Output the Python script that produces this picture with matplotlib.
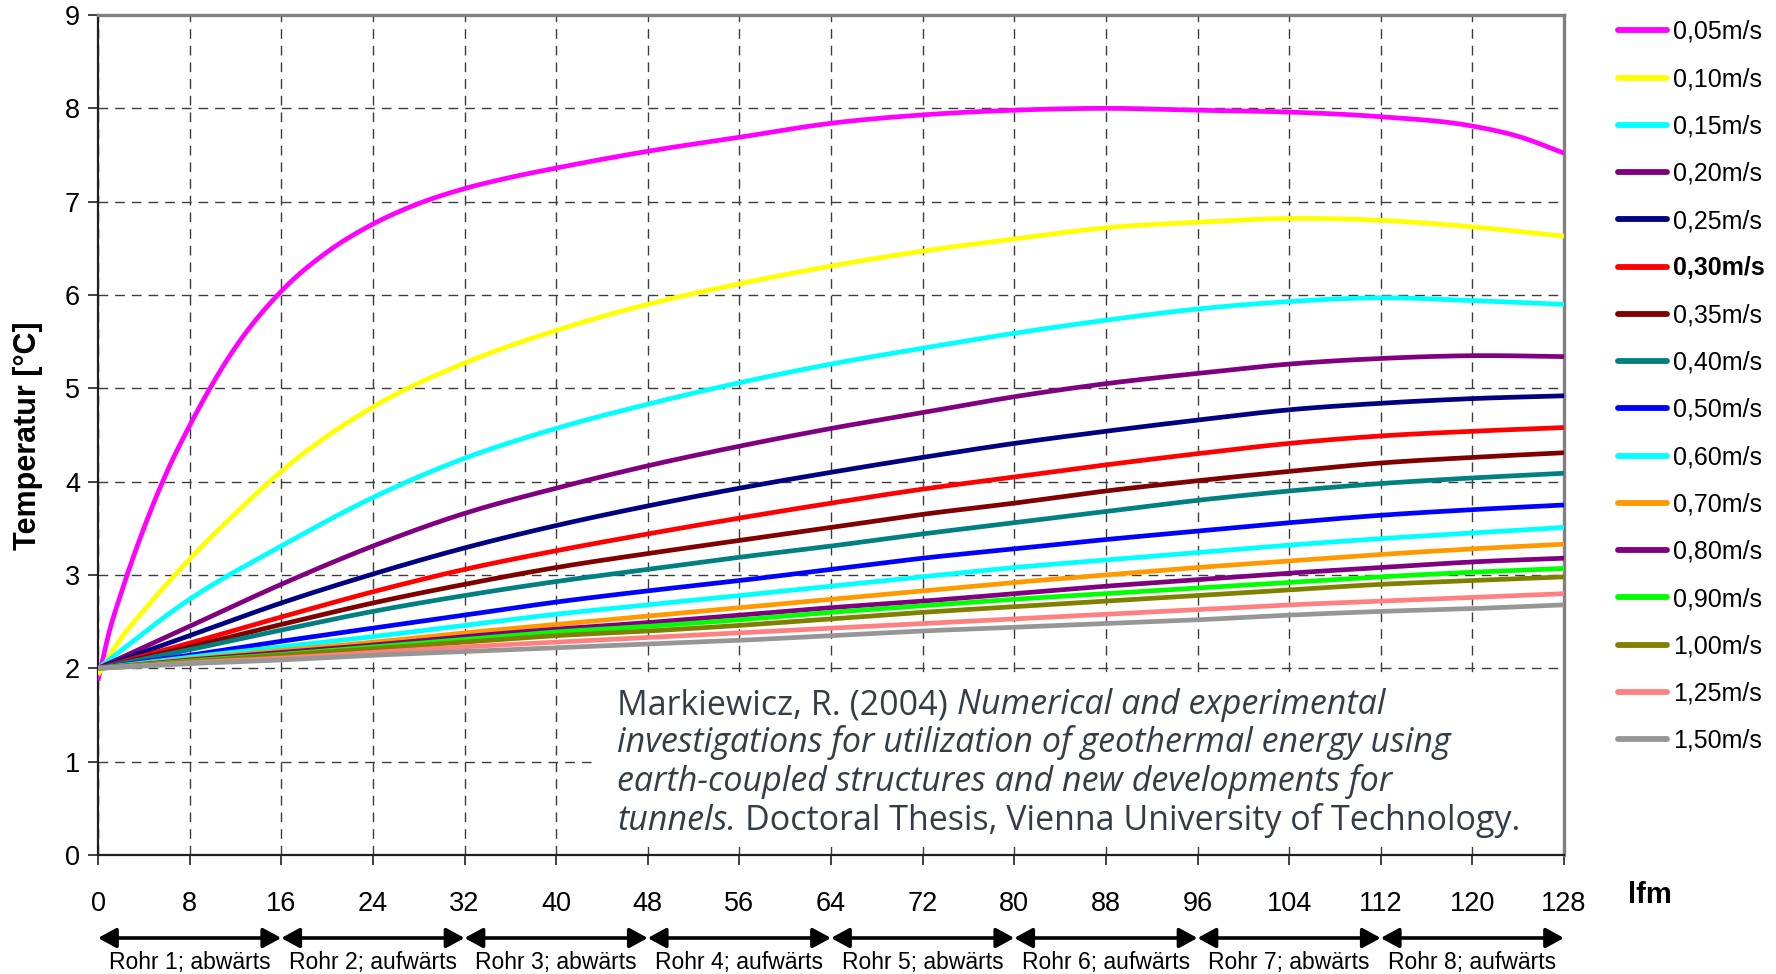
import numpy as np
import matplotlib
matplotlib.use('Agg')
import matplotlib.pyplot as plt
import matplotlib.transforms as mtransforms
from matplotlib.patches import Rectangle

plt.rcParams['font.family'] = ['Liberation Sans', 'DejaVu Sans']

# Laufmeter entlang der Sonde
lfm = [0, 8, 16, 24, 32, 40, 48, 56, 64, 72, 80, 88, 96, 104, 112, 120, 128]

# 0,05 m/s und 0,10 m/s steigen am Anfang steil an -> dichtere Stützstellen
lfm_005 = [0, 1, 2, 4, 6, 8, 12, 16, 20, 24, 28, 32, 36, 40, 48, 56, 64, 72, 80,
           88, 96, 104, 112, 120, 124, 128]
t_005 = [1.87, 2.4, 2.8, 3.5, 4.1, 4.6, 5.44, 6.04, 6.46, 6.76, 6.98, 7.14, 7.26,
         7.36, 7.54, 7.69, 7.84, 7.93, 7.98, 8.0, 7.98, 7.96, 7.91, 7.81, 7.7, 7.52]
lfm_010 = [0, 2, 4, 8, 12, 16, 24, 32, 40, 48, 56, 64, 72, 80, 88, 96, 104, 112, 120, 128]
t_010 = [1.93, 2.32, 2.62, 3.17, 3.66, 4.11, 4.80, 5.27, 5.62, 5.90, 6.12, 6.31, 6.47,
         6.60, 6.72, 6.78, 6.82, 6.80, 6.73, 6.63]

t_015 = [2.0, 2.74, 3.31, 3.83, 4.25, 4.57, 4.83, 5.06, 5.26, 5.43, 5.59, 5.73, 5.85, 5.93, 5.97, 5.94, 5.90]
t_020 = [2.0, 2.45, 2.90, 3.31, 3.66, 3.93, 4.17, 4.38, 4.57, 4.74, 4.91, 5.05, 5.16, 5.26, 5.32, 5.35, 5.34]
t_025 = [2.0, 2.35, 2.70, 3.01, 3.29, 3.53, 3.74, 3.93, 4.10, 4.26, 4.41, 4.54, 4.66, 4.77, 4.84, 4.89, 4.92]
t_030 = [2.0, 2.27, 2.55, 2.82, 3.06, 3.26, 3.44, 3.61, 3.77, 3.92, 4.05, 4.18, 4.30, 4.41, 4.49, 4.54, 4.58]
t_035 = [2.0, 2.23, 2.47, 2.70, 2.90, 3.08, 3.23, 3.37, 3.51, 3.65, 3.77, 3.90, 4.01, 4.11, 4.20, 4.26, 4.31]
t_040 = [2.0, 2.20, 2.41, 2.61, 2.78, 2.93, 3.06, 3.19, 3.31, 3.44, 3.56, 3.68, 3.80, 3.90, 3.98, 4.04, 4.09]
t_050 = [2.0, 2.14, 2.29, 2.43, 2.57, 2.71, 2.83, 2.94, 3.06, 3.18, 3.28, 3.38, 3.47, 3.56, 3.64, 3.70, 3.75]
t_060 = [2.0, 2.12, 2.23, 2.34, 2.46, 2.58, 2.68, 2.78, 2.88, 2.98, 3.08, 3.16, 3.24, 3.32, 3.39, 3.45, 3.51]
t_070 = [2.0, 2.10, 2.19, 2.28, 2.38, 2.47, 2.56, 2.65, 2.74, 2.83, 2.92, 3.00, 3.08, 3.15, 3.22, 3.28, 3.33]
t_080 = [2.0, 2.09, 2.17, 2.25, 2.34, 2.42, 2.49, 2.57, 2.65, 2.72, 2.80, 2.88, 2.95, 3.02, 3.08, 3.14, 3.18]
t_090 = [2.0, 2.08, 2.15, 2.23, 2.31, 2.39, 2.45, 2.52, 2.60, 2.67, 2.74, 2.80, 2.86, 2.92, 2.98, 3.03, 3.07]
t_100 = [2.0, 2.07, 2.14, 2.21, 2.28, 2.35, 2.40, 2.46, 2.53, 2.60, 2.66, 2.72, 2.78, 2.84, 2.90, 2.94, 2.98]
t_125 = [2.0, 2.06, 2.11, 2.17, 2.23, 2.28, 2.33, 2.38, 2.43, 2.48, 2.53, 2.58, 2.63, 2.68, 2.72, 2.76, 2.80]
t_150 = [2.0, 2.05, 2.09, 2.14, 2.18, 2.22, 2.26, 2.30, 2.35, 2.40, 2.44, 2.48, 2.52, 2.57, 2.61, 2.64, 2.68]

speeds = ["0,05m/s", "0,10m/s", "0,15m/s", "0,20m/s", "0,25m/s", "0,30m/s", "0,35m/s",
          "0,40m/s", "0,50m/s", "0,60m/s", "0,70m/s", "0,80m/s", "0,90m/s", "1,00m/s",
          "1,25m/s", "1,50m/s"]
farben = ["#ff00ff", "#ffff00", "#00ffff", "#800080", "#000080", "#ff0000", "#800000",
          "#008080", "#0000ff", "#00ffff", "#ff9900", "#800080", "#00ff00", "#808000",
          "#ff8080", "#969696"]

rohr_grenzen = [0, 16, 32, 48, 64, 80, 96, 112, 128]
rohr_text = ["Rohr 1; abwärts", "Rohr 2; aufwärts", "Rohr 3; abwärts", "Rohr 4; aufwärts",
             "Rohr 5; abwärts", "Rohr 6; aufwärts", "Rohr 7; abwärts", "Rohr 8; aufwärts"]

kurven = [(lfm_005, t_005), (lfm_010, t_010)] + [(lfm, t) for t in
          [t_015, t_020, t_025, t_030, t_035, t_040, t_050, t_060, t_070, t_080,
           t_090, t_100, t_125, t_150]]


def glatt(x, y, n=24):
    # kubische Hermite-Kurve durch die Stützstellen (wie "geglättete Linie")
    x = np.asarray(x, float)
    y = np.asarray(y, float)
    m = np.gradient(y, x)
    xs, ys = [], []
    for i in range(len(x) - 1):
        h = x[i + 1] - x[i]
        t = np.linspace(0, 1, n, endpoint=False)
        h00 = 2 * t**3 - 3 * t**2 + 1
        h10 = t**3 - 2 * t**2 + t
        h01 = -2 * t**3 + 3 * t**2
        h11 = t**3 - t**2
        xs.append(x[i] + t * h)
        ys.append(h00 * y[i] + h10 * h * m[i] + h01 * y[i + 1] + h11 * h * m[i + 1])
    xs.append([x[-1]])
    ys.append([y[-1]])
    return np.concatenate(xs), np.concatenate(ys)


fig = plt.figure(figsize=(17.76, 9.74), dpi=100)
ax = fig.add_axes([98 / 1776, 1 - 855 / 974, 1466 / 1776, 840 / 974])

for (x, y), c, s in zip(kurven, farben, speeds):
    xs, ys = glatt(x, y)
    ax.plot(xs, ys, color=c, lw=3.4, label=s, zorder=3, solid_capstyle='butt')

ax.set_xlim(0, 128)
ax.set_ylim(0, 9)
ax.set_xticks(range(0, 129, 8))
ax.set_yticks(range(0, 10))
ax.grid(True, color='#3c3c3c', lw=1.0, ls=(0, (7, 5)), zorder=1)
ax.tick_params(axis='y', direction='out', length=7, width=1.2, labelsize=19.5, pad=6,
               color='#202020')
ax.tick_params(axis='x', direction='out', length=7, width=1.2, labelsize=19.5, pad=19,
               color='#202020')
for side in ['left', 'bottom']:
    ax.spines[side].set_color('#202020')
    ax.spines[side].set_linewidth(1.6)
for side in ['top', 'right']:
    ax.spines[side].set_color('#808080')
    ax.spines[side].set_linewidth(2.4)

fig.text(28 / 1776, 1 - 436 / 974, 'Temperatur [°C]', fontsize=22, fontweight='bold',
         rotation=90, ha='center', va='center')
fig.text(1650 / 1776, 1 - 895 / 974, 'lfm', fontsize=21, fontweight='bold',
         ha='center', va='center')

# weißes Feld hinter der Quellenangabe
ax.add_patch(Rectangle((43.6, 0.09), 128 - 43.6, 1.81, facecolor='white',
                       edgecolor='none', zorder=2))

# Pfeile für die Rohrabschnitte
pfeil_trans = mtransforms.blended_transform_factory(ax.transData, fig.transFigure)
y_pfeil = 1 - 938 / 974
for a, b, txt in zip(rohr_grenzen[:-1], rohr_grenzen[1:], rohr_text):
    ax.annotate('', xy=(b, y_pfeil), xytext=(a, y_pfeil), xycoords=pfeil_trans,
                textcoords=pfeil_trans, annotation_clip=False,
                arrowprops=dict(arrowstyle='<|-|>,head_length=0.55,head_width=0.3',
                                mutation_scale=20, lw=2.6, color='black',
                                shrinkA=0, shrinkB=0))
    ax.text((a + b) / 2, 1 - 962 / 974, txt, transform=pfeil_trans, fontsize=16.5,
            ha='center', va='center')

leg = fig.legend(loc='upper left', bbox_to_anchor=(1618 / 1776, 1 - 20 / 974),
                 frameon=False, fontsize=18, handlelength=1.95, handletextpad=0.25,
                 labelspacing=0.93, borderpad=0, borderaxespad=0)
for line in leg.get_lines():
    line.set_linewidth(4.2)
    line.set_solid_capstyle('round')
leg.get_texts()[5].set_fontweight('bold')

# Quellenangabe, normal und kursiv gemischt
zeilen = [
    [("Markiewicz, R. (2004)", 'normal'), ("Numerical and experimental", 'italic')],
    [("investigations for utilization of geothermal energy using", 'italic')],
    [("earth-coupled structures and new developments for", 'italic')],
    [("tunnels.", 'italic'), ("Doctoral Thesis, Vienna University of Technology.", 'normal')],
]
fig.canvas.draw()
renderer = fig.canvas.get_renderer()
pix = mtransforms.IdentityTransform()
fs_q = 24.5
luecke = 0.27 * fs_q * 100 / 72
for i, zeile in enumerate(zeilen):
    x0 = 617
    y0 = 974 - (714 + i * 38.5)
    for teil, stil in zeile:
        t = fig.text(x0, y0, teil, transform=pix, fontsize=fs_q, style=stil,
                     family='Open Sans', color='#333d47', va='baseline', ha='left',
                     zorder=5)
        x0 = t.get_window_extent(renderer).x1 + luecke

fig.savefig('out.png', dpi=100)
